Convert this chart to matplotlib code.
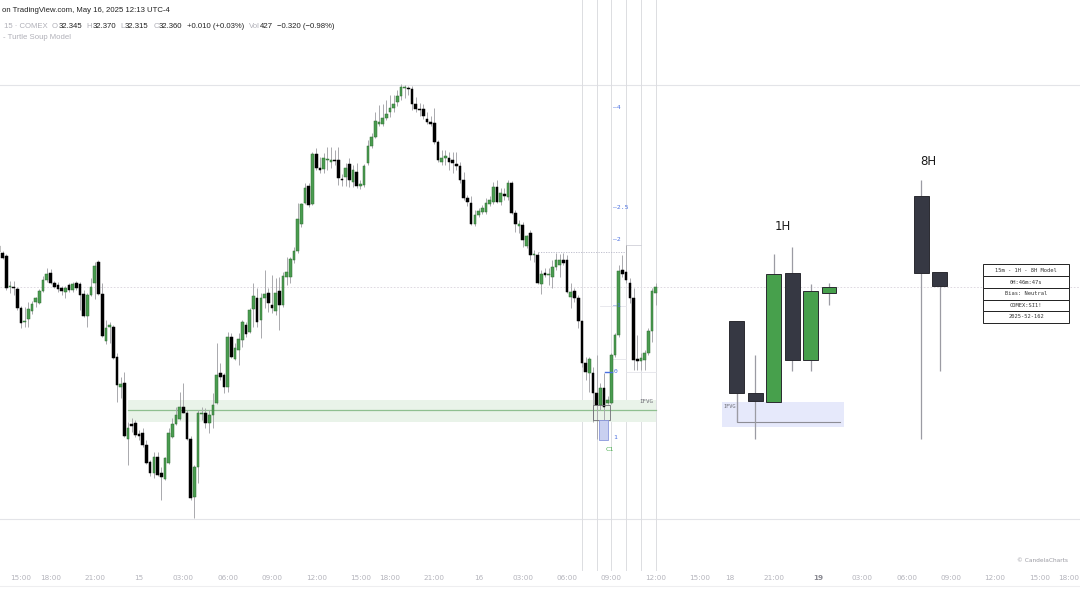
import matplotlib
matplotlib.use("Agg")
import matplotlib.pyplot as plt
from matplotlib.patches import Rectangle

# ---------------- data: 15-minute COMEX silver bars (index 0 = May 14 15:00) ----------------
first_index = -6
opens = [
    32.463, 32.445, 32.438, 32.360, 32.360, 32.355, 32.308, 32.273, 32.280, 32.300,
    32.323, 32.320, 32.350, 32.378, 32.395, 32.370, 32.365, 32.358, 32.348, 32.365,
    32.353, 32.370, 32.368, 32.343, 32.288, 32.340, 32.370, 32.423, 32.343, 32.225,
    32.260, 32.260, 32.185, 32.110, 32.120, 31.980, 32.018, 32.020, 31.993, 31.995,
    31.965, 31.923, 31.895, 31.935, 31.895, 31.880, 31.920, 31.985, 32.018, 32.030,
    32.060, 32.045, 31.980, 31.835, 31.910, 32.043, 32.045, 32.020, 32.040, 32.070,
    32.145, 32.140, 32.110, 32.235, 32.180, 32.203, 32.228, 32.265, 32.248, 32.305,
    32.333, 32.278, 32.333, 32.345, 32.315, 32.300, 32.350, 32.315, 32.385, 32.385,
    32.428, 32.450, 32.518, 32.570, 32.613, 32.568, 32.693, 32.658, 32.655, 32.678,
    32.673, 32.678, 32.678, 32.630, 32.635, 32.668, 32.623, 32.648, 32.613, 32.615,
    32.670, 32.713, 32.735, 32.768, 32.768, 32.783, 32.798, 32.808, 32.823, 32.838,
    32.858, 32.858, 32.855, 32.818, 32.805, 32.805, 32.780, 32.773, 32.770, 32.723,
    32.673, 32.683, 32.683, 32.678, 32.668, 32.663, 32.628, 32.583, 32.570, 32.518,
    32.540, 32.548, 32.548, 32.568, 32.573, 32.610, 32.573, 32.593, 32.585, 32.620,
    32.545, 32.513, 32.515, 32.463, 32.495, 32.440, 32.440, 32.368, 32.395, 32.390,
    32.385, 32.410, 32.415, 32.428, 32.428, 32.335, 32.350, 32.333, 32.275, 32.170,
    32.145, 32.145, 32.095, 32.065, 32.108, 32.070, 32.070, 32.190, 32.240, 32.403,
    32.398, 32.370, 32.333, 32.180, 32.175, 32.178, 32.195, 32.250, 32.345,
]
highs = [
    32.470, 32.450, 32.443, 32.375, 32.375, 32.360, 32.313, 32.310, 32.323, 32.325,
    32.335, 32.355, 32.388, 32.408, 32.405, 32.375, 32.373, 32.363, 32.363, 32.370,
    32.373, 32.375, 32.373, 32.353, 32.345, 32.383, 32.423, 32.428, 32.370, 32.278,
    32.273, 32.265, 32.195, 32.135, 32.148, 32.023, 32.033, 32.028, 32.003, 32.008,
    31.978, 31.928, 31.948, 31.948, 31.910, 31.935, 32.008, 32.033, 32.060, 32.098,
    32.120, 32.053, 31.988, 31.915, 32.053, 32.060, 32.058, 32.053, 32.095, 32.220,
    32.170, 32.145, 32.248, 32.245, 32.220, 32.245, 32.278, 32.273, 32.308, 32.370,
    32.358, 32.345, 32.403, 32.358, 32.390, 32.383, 32.385, 32.398, 32.435, 32.435,
    32.460, 32.570, 32.570, 32.620, 32.620, 32.698, 32.708, 32.685, 32.695, 32.710,
    32.710, 32.703, 32.710, 32.643, 32.670, 32.683, 32.665, 32.670, 32.628, 32.668,
    32.728, 32.745, 32.798, 32.815, 32.818, 32.828, 32.840, 32.840, 32.853, 32.868,
    32.865, 32.863, 32.863, 32.835, 32.820, 32.818, 32.798, 32.788, 32.808, 32.728,
    32.703, 32.703, 32.698, 32.698, 32.698, 32.673, 32.648, 32.590, 32.588, 32.553,
    32.558, 32.565, 32.583, 32.588, 32.623, 32.628, 32.608, 32.608, 32.628, 32.625,
    32.553, 32.528, 32.523, 32.490, 32.503, 32.453, 32.448, 32.403, 32.408, 32.408,
    32.428, 32.445, 32.443, 32.445, 32.440, 32.370, 32.358, 32.340, 32.275, 32.185,
    32.185, 32.160, 32.190, 32.120, 32.145, 32.088, 32.195, 32.245, 32.415, 32.440,
    32.465, 32.383, 32.358, 32.240, 32.195, 32.203, 32.258, 32.358, 32.370,
]
lows = [
    32.443, 32.430, 32.353, 32.345, 32.340, 32.303, 32.258, 32.260, 32.260, 32.293,
    32.310, 32.318, 32.348, 32.373, 32.368, 32.358, 32.348, 32.340, 32.333, 32.348,
    32.348, 32.353, 32.303, 32.285, 32.260, 32.338, 32.330, 32.340, 32.235, 32.218,
    32.220, 32.180, 32.073, 32.083, 31.985, 31.915, 31.998, 31.985, 31.978, 31.960,
    31.918, 31.888, 31.883, 31.888, 31.828, 31.878, 31.918, 31.983, 32.015, 32.028,
    32.045, 31.978, 31.828, 31.783, 31.870, 32.028, 32.008, 31.995, 32.008, 32.068,
    32.128, 32.095, 32.098, 32.183, 32.178, 32.165, 32.210, 32.235, 32.245, 32.260,
    32.260, 32.233, 32.308, 32.298, 32.295, 32.290, 32.253, 32.310, 32.365, 32.370,
    32.420, 32.445, 32.510, 32.568, 32.560, 32.565, 32.653, 32.645, 32.645, 32.653,
    32.658, 32.665, 32.615, 32.613, 32.613, 32.610, 32.610, 32.608, 32.605, 32.610,
    32.665, 32.708, 32.733, 32.763, 32.763, 32.778, 32.785, 32.798, 32.813, 32.828,
    32.833, 32.840, 32.803, 32.798, 32.788, 32.780, 32.768, 32.763, 32.718, 32.673,
    32.665, 32.665, 32.653, 32.645, 32.653, 32.620, 32.578, 32.563, 32.515, 32.513,
    32.535, 32.543, 32.543, 32.563, 32.568, 32.570, 32.565, 32.578, 32.578, 32.543,
    32.498, 32.495, 32.460, 32.458, 32.428, 32.423, 32.368, 32.343, 32.385, 32.365,
    32.358, 32.403, 32.385, 32.415, 32.345, 32.308, 32.323, 32.258, 32.160, 32.128,
    32.098, 32.023, 31.980, 32.053, 32.028, 32.068, 32.068, 32.185, 32.235, 32.385,
    32.370, 32.320, 32.153, 32.153, 32.153, 32.153, 32.190, 32.223, 32.315,
]
closes = [
    32.448, 32.433, 32.358, 32.363, 32.358, 32.308, 32.270, 32.275, 32.305, 32.318,
    32.333, 32.350, 32.378, 32.393, 32.370, 32.360, 32.355, 32.350, 32.358, 32.353,
    32.368, 32.358, 32.340, 32.288, 32.340, 32.360, 32.413, 32.343, 32.238, 32.258,
    32.265, 32.183, 32.115, 32.118, 31.988, 32.008, 32.013, 31.990, 31.988, 31.965,
    31.920, 31.895, 31.935, 31.890, 31.885, 31.933, 31.995, 32.018, 32.040, 32.060,
    32.045, 31.980, 31.833, 31.910, 32.045, 32.045, 32.020, 32.040, 32.065, 32.140,
    32.135, 32.110, 32.235, 32.185, 32.208, 32.230, 32.273, 32.243, 32.303, 32.338,
    32.273, 32.333, 32.343, 32.320, 32.308, 32.345, 32.315, 32.388, 32.398, 32.430,
    32.450, 32.530, 32.568, 32.608, 32.565, 32.693, 32.658, 32.653, 32.683, 32.680,
    32.678, 32.675, 32.633, 32.628, 32.658, 32.628, 32.653, 32.613, 32.618, 32.663,
    32.713, 32.735, 32.775, 32.773, 32.783, 32.793, 32.808, 32.818, 32.838, 32.860,
    32.860, 32.855, 32.818, 32.805, 32.803, 32.788, 32.773, 32.768, 32.723, 32.678,
    32.683, 32.688, 32.673, 32.670, 32.663, 32.628, 32.583, 32.573, 32.518, 32.540,
    32.550, 32.558, 32.570, 32.578, 32.610, 32.573, 32.595, 32.588, 32.620, 32.545,
    32.518, 32.518, 32.478, 32.488, 32.440, 32.443, 32.370, 32.393, 32.390, 32.393,
    32.410, 32.428, 32.428, 32.420, 32.348, 32.348, 32.333, 32.275, 32.170, 32.148,
    32.180, 32.095, 32.065, 32.108, 32.060, 32.078, 32.190, 32.240, 32.400, 32.393,
    32.378, 32.333, 32.178, 32.175, 32.183, 32.195, 32.250, 32.350, 32.360,
]

# x-axis tick labels (bar index -> label)
tick_index = [0, 8, 20, 32, 44, 56, 68, 80, 92, 100, 112, 124, 136, 148, 160, 172,
              184, 192, 204, 216, 228, 240, 252, 264, 276, 284]
tick_labels = ["15:00", "18:00", "21:00", "15", "03:00", "06:00", "09:00", "12:00",
               "15:00", "18:00", "21:00", "16", "03:00", "06:00", "09:00", "12:00",
               "15:00", "18", "21:00", "19", "03:00", "06:00", "09:00", "12:00",
               "15:00", "18:00"]

# higher-timeframe candles (1H: 07:00 .. 12:00, 8H: 02:00, 10:00)
h1_open = [32.276, 32.096, 32.072, 32.396, 32.177, 32.345]
h1_high = [32.276, 32.190, 32.443, 32.461, 32.367, 32.370]
h1_low = [32.023, 31.980, 32.072, 32.151, 32.151, 32.315]
h1_close = [32.096, 32.076, 32.392, 32.177, 32.351, 32.360]
h8_open = [32.588, 32.398]
h8_high = [32.628, 32.398]
h8_low = [31.980, 32.150]
h8_close = [32.395, 32.363]

# deviation projection levels (label -> price)
dev_labels = ["-4", "-2.5", "-2", "-1", "0", "1"]
dev_prices = [32.808, 32.558, 32.478, 32.313, 32.148, 31.983]

table_rows = ["15m - 1H - 8H Model", "0H:46m:47s", "Bias: Neutral", "COMEX:SI1!", "2025-52-162"]

header_title = "on TradingView.com, May 16, 2025 12:13 UTC-4"
legend_groups = [("15 \u00b7 COMEX", ""), ("O", "32.345"), ("H", "32.370"), ("L", "32.315"),
                 ("C", "32.360"), ("", "+0.010 (+0.03%)"), ("Vol", "427"),
                 ("", "\u22120.320 (\u22120.98%)")]
legend_x = [3, 47.7, 81.3, 116.7, 146.7, 182.7, 245.7, 272.7]

# ---------------- figure ----------------
W, H = 1080, 608
fig = plt.figure(figsize=(W / 100, H / 100), dpi=100)
ax = fig.add_axes([0, 0, 1, 1])
ax.set_xlim(-5.69, 287.0)
ax.set_ylim(31.5575, 33.0775)
ax.axis("off")

UP = "#4a9c50"
UP_EDGE = "#2f6b33"
DOWN = "#000000"
WICK = "#a9a9ad"
GRID = "#e3e4e8"


def fx(px):
    return px / W


def fy(py):
    return 1 - py / H


# light structural lines
for p in (32.865, 31.780):
    ax.axhline(p, color=GRID, lw=0.8, zorder=0)
fig.add_artist(plt.Line2D([0, 1], [fy(586), fy(586)], color="#eeeef0", lw=0.8))
ax.axhline(closes[-1], color="#d9d3dc", lw=0.6, ls=(0, (2, 2)), zorder=0)
for vi in (152, 156, 160, 164, 168, 172):
    ax.axvline(vi, ymin=fy(570), ymax=1, color="#dcdde1", lw=0.7, zorder=0)

# IFVG zone on the 15m chart
ax.add_patch(Rectangle((28.9, 32.0225), 172 - 28.9, 0.055, facecolor="#e9f3e9",
                       edgecolor="none", zorder=0.5))
ax.plot([28.9, 172], [32.0525, 32.0525], color="#8fbf90", lw=0.9, zorder=0.6)
ax.text(169.5, 32.073, "IFVG", fontsize=4.2, color="#6d6d75", family="DejaVu Sans Mono",
        ha="center", va="center")

# liquidity lines near the sweep
ax.plot([140, 164], [32.4475, 32.4475], color="#b8b8c8", lw=0.6, ls=(0, (1.5, 1.5)), zorder=0.6)
ax.plot([164, 168], [32.465, 32.465], color="#d0d0d8", lw=0.6, zorder=0.6)
ax.plot([157, 164], [32.313, 32.313], color="#e4e4ea", lw=0.6, zorder=0.6)
ax.plot([160, 164], [32.18, 32.18], color="#e4e4ea", lw=0.6, zorder=0.6)
ax.plot([164, 172], [32.148, 32.148], color="#e4e4ea", lw=0.6, zorder=0.6)

# C1 markers
ax.add_patch(Rectangle((155.1, 32.0275), 4.6, 0.0375, facecolor="none",
                       edgecolor="#6e6e74", lw=0.6, zorder=3))
ax.add_patch(Rectangle((156.6, 31.977), 2.4, 0.051, facecolor="#c9d0f0",
                       edgecolor="#8a98dc", lw=0.6, zorder=3))
ax.plot([158.2, 160.2], [32.148, 32.148], color="#4a6fe0", lw=1.0, zorder=3)
ax.text(159.6, 31.953, "C1", fontsize=4.6, color="#4caf50", ha="center", va="center")

for lab, p in zip(dev_labels, dev_prices):
    shown = "\u2012" + lab[1:] if lab.startswith("-") else lab
    ax.text(160.4 if lab not in ("0", "1") else 160.6, p, shown,
            fontsize=4.6, color="#4a6fe0", ha="left", va="center", family="DejaVu Sans Mono")

# ---------------- 15m candles ----------------
idx = list(range(first_index, first_index + len(opens)))
bw = 0.72
for i, o, h, l, c in zip(idx, opens, highs, lows, closes):
    ax.vlines(i, l, h, color=WICK, lw=0.7, zorder=1)
for i, o, h, l, c in zip(idx, opens, highs, lows, closes):
    up = c >= o
    bottom = min(o, c)
    height = max(abs(c - o), 0.003)
    ax.add_patch(Rectangle((i - bw / 2, bottom), bw, height,
                           facecolor=UP if up else DOWN,
                           edgecolor=UP_EDGE if up else DOWN, lw=0.35, zorder=2))

# ---------------- higher-timeframe candles ----------------
HTF_DARK = "#363843"
HTF_UP = "#47a04c"


def htf(xs, o_, h_, l_, c_):
    for x, o, h, l, c in zip(xs, o_, h_, l_, c_):
        ax.vlines(x, l, h, color="#9b9ba3", lw=0.9, zorder=3)
    for x, o, h, l, c in zip(xs, o_, h_, l_, c_):
        up = c >= o
        ax.add_patch(Rectangle((x - 2, min(o, c)), 4, max(abs(c - o), 0.003),
                               facecolor=HTF_UP if up else HTF_DARK,
                               edgecolor="#2a2a30", lw=0.7, zorder=4))


h1_x = [194, 199, 204, 209, 214, 219]
h8_x = [244, 249]
# 1H IFVG box
ax.add_patch(Rectangle((190.0, 32.011), 223.0 - 190.0, 0.061, facecolor="#e6e9fb",
                       edgecolor="none", zorder=2))
ax.plot([194, 194, 222.0], [32.096, 32.023, 32.023], color="#8d8d95", lw=0.8, zorder=2.5)
ax.text(190.4, 32.062, "IFVG", fontsize=3.8, color="#6d6d75", family="DejaVu Sans Mono",
        ha="left", va="center")
htf(h1_x, h1_open, h1_high, h1_low, h1_close)
htf(h8_x, h8_open, h8_high, h8_low, h8_close)
ax.text(206.5, 32.51, "1H", fontsize=8.5, ha="center", va="center", color="#1a1a1a")
ax.text(246, 32.675, "8H", fontsize=8.5, ha="center", va="center", color="#1a1a1a")

# ---------------- info table ----------------
tx0, tx1 = fx(983), fx(1069)
row_edges = [264.5, 276, 288, 299.5, 311, 322.5]
for k, txt in enumerate(table_rows):
    y0, y1 = row_edges[k], row_edges[k + 1]
    fig.add_artist(Rectangle((tx0, fy(y1)), tx1 - tx0, fy(y0) - fy(y1), transform=fig.transFigure,
                             facecolor="white", edgecolor="#222222", lw=0.7))
    fig.text((tx0 + tx1) / 2, fy((y0 + y1) / 2), txt, fontsize=3.9, ha="center", va="center",
             family="DejaVu Sans Mono", color="#333333")

# ---------------- x axis labels ----------------
for ti, tl in zip(tick_index, tick_labels):
    ax.text(ti, 31.6325, tl, fontsize=5.2, color="#b4b4bc" if tl != "19" else "#8a8a92",
            ha="center", va="center", fontweight="bold" if tl == "19" else "normal")

fig.text(fx(1068), fy(560), "\u00a9 CandelaCharts", fontsize=4.2, color="#9a9aa2", ha="right", va="center")

# ---------------- header ----------------
HF = "Liberation Sans"
GRAY_T = "#b0b0b8"
DARK_T = "#222222"
fig.text(fx(2), fy(10), header_title, fontsize=5.6, color=DARK_T, family=HF, va="center")
renderer = fig.canvas.get_renderer()
prev_end = 0
for (lab, val), px in zip(legend_groups, legend_x):
    cur = max(px, prev_end + 4)
    for txt, col in ((lab, GRAY_T), (val, DARK_T)):
        if not txt:
            continue
        t = fig.text(fx(cur), fy(26), txt, fontsize=5.6, color=col, family=HF, va="center")
        cur += t.get_window_extent(renderer).width + 0.4
    prev_end = cur
fig.text(fx(3), fy(37.3), "- Turtle Soup Model", fontsize=5.6, color=GRAY_T, family=HF, va="center")

fig.savefig("out.png", dpi=100, facecolor="white")
